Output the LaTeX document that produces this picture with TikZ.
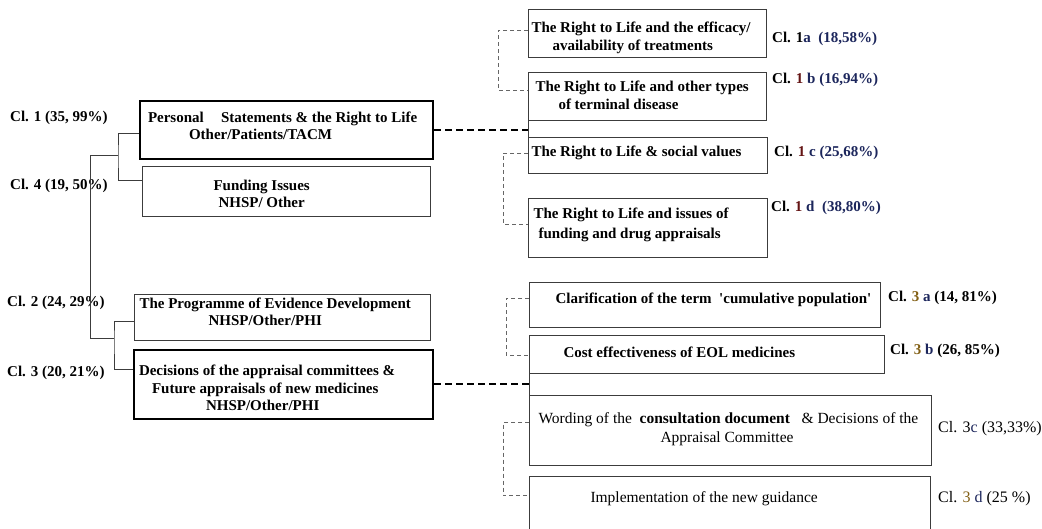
\documentclass[tikz,border=0pt]{standalone}
\usepackage{fontspec}
\setmainfont{Liberation Serif}
\newfontfamily\qrm{Liberation Serif}
\definecolor{nv}{RGB}{28,38,92}
\definecolor{dr}{RGB}{100,20,20}
\definecolor{gd}{RGB}{130,95,20}
\definecolor{ln}{RGB}{60,60,60}
\newcommand{\bxt}[4]{\begin{minipage}[c][#2pt][t]{#1pt}\rule{0pt}{#3pt}#4\end{minipage}}
\begin{document}
\begin{tikzpicture}[x=1pt,y=-1pt,
  box/.style={draw=ln, line width=1pt, inner sep=0pt, anchor=north west, font=\fontsize{15}{18}\selectfont\bfseries},
  tbox/.style={box, draw=black, line width=2pt},
  rbox/.style={box, font=\fontsize{15.5}{19}\selectfont},
  lbl/.style={inner sep=0pt, anchor=base west, font=\fontsize{15}{18}\selectfont\bfseries},
  lblr/.style={inner sep=0pt, anchor=base west, font=\fontsize{16}{18}\selectfont},
  tree/.style={draw=ln, line width=1pt},
  mdash/.style={draw=black, line width=2pt, dash pattern=on 7pt off 4pt},
  tdash/.style={draw=gray!80!black, line width=1pt, dash pattern=on 4pt off 3pt}]
\useasboundingbox (0,0) rectangle (1042,529);
\clip (0,0) rectangle (1042,529);
\fill[white] (0,0) rectangle (1042,529);

% left boxes
\node[tbox, font=\fontsize{15}{17}\selectfont\bfseries] (P) at (139,100)
  {\bxt{293}{58}{22}{\hspace*{8pt}Personal\hspace{0.9em} Statements \& the Right to Life\\\hspace*{49pt}Other/Patients/TACM}};
\node[box, font=\fontsize{15}{17}\selectfont\bfseries] (F) at (142,166)
  {\bxt{288}{50}{24}{\hspace*{71pt}Funding Issues\\\hspace*{76pt}NHSP/ Other}};
\node[box, font=\fontsize{15}{17}\selectfont\bfseries] (E) at (134,294)
  {\bxt{296}{46}{14}{\hspace*{5pt}The Programme of Evidence Development\\\hspace*{74pt}NHSP/Other/PHI}};
\node[tbox, font=\fontsize{15}{17.5}\selectfont\bfseries] (D) at (133,349)
  {\bxt{299}{69}{26}{\hspace*{5pt}Decisions of the appraisal committees \&\\\hspace*{18pt}Future appraisals of new medicines\\\hspace*{72pt}NHSP/Other/PHI}};

% left labels
\node[lbl] (l1) at (10,122) {Cl. 1 (35, 99\%)};
\node[lbl] (l4) at (10,190) {Cl. 4 (19, 50\%)};
\node[lbl] (l2) at (7,307) {Cl. 2 (24, 29\%)};
\node[lbl] (l3) at (7,377) {Cl. 3 (20, 21\%)};

% right upper boxes
\node[box] (a1) at (528,9)
  {\bxt{238}{48}{23}{\hspace*{3pt}The Right to Life and the efficacy/\\\hspace*{24pt}availability of treatments}};
\node[box] (b1) at (528,72)
  {\bxt{238}{48}{19}{\hspace*{7pt}The Right to Life and other types\\\hspace*{30pt}of terminal disease}};
\node[box] (c1) at (528,137)
  {\bxt{239}{36}{19}{\hspace*{3pt}The Right to Life \& social values}};
\node[box, font=\fontsize{15}{20}\selectfont\bfseries] (d1) at (528,198)
  {\bxt{239}{59}{20}{\hspace*{5pt}The Right to Life and issues of\\\hspace*{10pt}funding and drug appraisals}};

% right lower boxes
\node[box] (a3) at (529,282)
  {\bxt{351}{45}{21}{\hspace*{26pt}Clarification of the term\ \ {\qrm '}cumulative population{\qrm '}}};
\node[box] (b3) at (529,335)
  {\bxt{355}{38}{22}{\hspace*{34pt}Cost effectiveness of EOL medicines}};
\node[rbox] (c3) at (529,395)
  {\bxt{402}{70}{28}{\hspace*{9pt}Wording of the\ \ {\bfseries consultation document}\ \ \ \& Decisions of the\\\hspace*{131pt}Appraisal Committee}};
\node[rbox] (d3) at (529,476)
  {\bxt{401}{60}{26}{\hspace*{61pt}Implementation of the new guidance}};

% right labels
\node[lbl] (la1) at (772,43) {Cl. 1\textcolor{nv}{a\ \ (18,58\%)}};
\node[lbl] (lb1) at (772,84) {Cl. \textcolor{dr}{1} \textcolor{nv}{b (16,94\%)}};
\node[lbl] (lc1) at (774,157) {Cl. \textcolor{dr}{1} \textcolor{nv}{c (25,68\%)}};
\node[lbl] (ld1) at (771,212) {Cl. \textcolor{dr}{1}\ \textcolor{nv}{d\ \ (38,80\%)}};
\node[lbl] (la3) at (888,302) {Cl. \textcolor{gd}{3} \textcolor{nv}{a} (14, 81\%)};
\node[lbl] (lb3) at (890,355) {Cl. \textcolor{gd}{3} \textcolor{nv}{b} (26, 85\%)};
\node[lblr] (lc3) at (938,432) {Cl. 3\textcolor{nv}{c} (33,33\%)};
\node[lblr] (ld3) at (938,502) {Cl. \textcolor{gd}{3} \textcolor{nv}{d} (25 \%)};

% tree
\coordinate (j1) at (118,156);
\coordinate (j0) at (90,156);
\coordinate (j2) at (114,339);
\draw[tree] ([yshift=-4pt]P.west) -| (j1) |- ([yshift=11pt]F.west);
\draw[tree] (j1) -- (j0) |- (j2);
\draw[tree] ([yshift=-4pt]E.west) -| (j2) |- ([yshift=14.5pt]D.west);

% main dashed links
\draw[mdash] (P.east) -- (P.east -| b1.south west);
\draw[tree] (b1.south west) -- (c1.north west);
\draw[mdash] (D.east) -- (D.east -| b3.south west);
\draw[tree] (b3.south west) -- (c3.north west);

% thin dashed brackets
\draw[tdash] ([yshift=3pt]a1.west) -- ++(-30,0) |- ([yshift=6pt]b1.west);
\draw[tdash] ([yshift=2pt]c1.west) -- ++(-25,0) |- ([yshift=3.5pt]d1.west);
\draw[tdash] ([yshift=6.5pt]a3.west) -- ++(-23,0) |- ([yshift=-1pt]b3.west);
\draw[tdash] ([yshift=8pt]c3.west) -- ++(-26,0) |- ([yshift=11pt]d3.west);
\end{tikzpicture}
\end{document}
